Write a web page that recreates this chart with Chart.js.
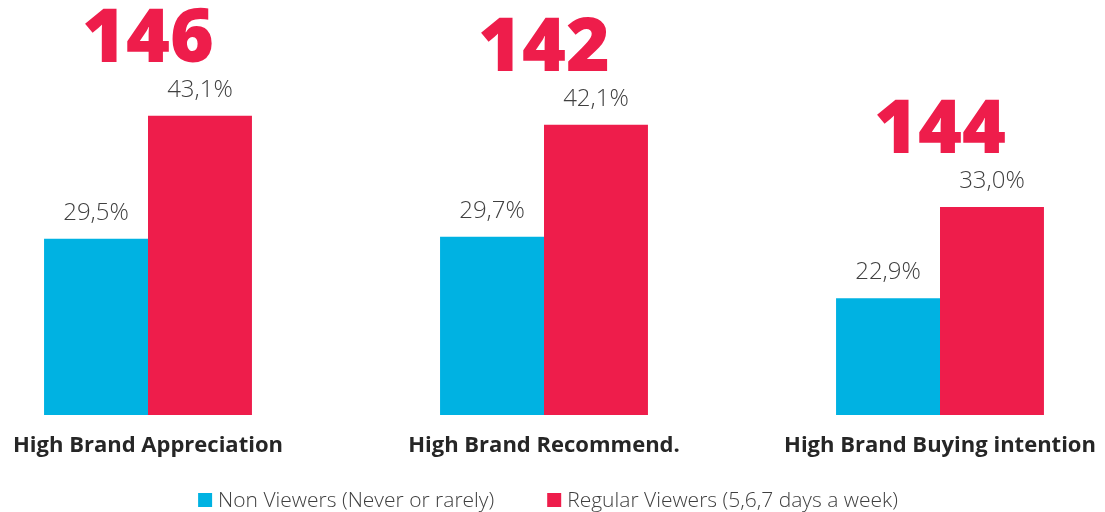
<!DOCTYPE html>
<html>
<head>
<meta charset="utf-8">
<script src="https://cdn.jsdelivr.net/npm/chart.js@4"></script>
<style>
  html, body { margin: 0; padding: 0; background: #fff; overflow: hidden; }
  #wrap { position: absolute; left: -50px; top: 0; width: 1188px; height: 512px; }
</style>
</head>
<body>
<div id="wrap"><canvas id="grafico"></canvas></div>
<script>
const categorias = ['High Brand Appreciation', 'High Brand Recommend.', 'High Brand Buying intention'];
const naoEspectadores = [29.5, 29.7, 22.9];
const regulares = [43.1, 42.1, 33.0];
const indices = [146, 142, 144];

const azul = '#00B2E2';
const vermelho = '#EE1D4B';

// escreve os percentuais em cima das barras e o índice grande sobre cada grupo
const rotulos = {
    id: 'rotulos',
    afterDatasetsDraw(chart) {
        const ctx = chart.ctx;
        ctx.save();
        ctx.textAlign = 'center';
        ctx.textBaseline = 'alphabetic';
        ctx.fillStyle = '#404040';
        ctx.font = '300 24px "Open Sans"';
        chart.data.datasets.forEach((ds, i) => {
            chart.getDatasetMeta(i).data.forEach((bar, j) => {
                const txt = ds.data[j].toFixed(1).replace('.', ',') + '%';
                ctx.fillText(txt, bar.x, bar.y - 19);
            });
        });
        const azuis = chart.getDatasetMeta(0).data;
        const vermelhas = chart.getDatasetMeta(1).data;
        ctx.fillStyle = vermelho;
        ctx.font = '800 75px "Open Sans"';
        indices.forEach((v, j) => {
            const x = (azuis[j].x + vermelhas[j].x) / 2;
            ctx.fillText(String(v), x, vermelhas[j].y - 54);
        });
        ctx.restore();
    }
};

// legenda própria: quadradinho colado no texto e bastante espaço entre os itens
const legenda = {
    id: 'legenda',
    afterDraw(chart) {
        const ctx = chart.ctx;
        const caixa = 14, folga = 6, entre = 53;
        ctx.save();
        ctx.font = '300 21px "Open Sans"';
        ctx.textAlign = 'left';
        ctx.textBaseline = 'alphabetic';
        const itens = chart.data.datasets.map(ds => ({
            texto: ds.label,
            cor: ds.backgroundColor,
            larg: ctx.measureText(ds.label).width
        }));
        const total = itens.reduce((s, it) => s + caixa + folga + it.larg, 0) + entre * (itens.length - 1);
        let x = chart.width / 2 + 4 - total / 2;
        const y = 507;
        itens.forEach(it => {
            ctx.fillStyle = it.cor;
            ctx.fillRect(x, y - caixa, caixa, caixa);
            ctx.fillStyle = '#404040';
            ctx.fillText(it.texto, x + caixa + folga, y - 0.5);
            x += caixa + folga + it.larg + entre;
        });
        ctx.restore();
    }
};

const ctx = document.getElementById('grafico').getContext('2d');
const grafico = new Chart(ctx, {
    type: 'bar',
    data: {
        labels: categorias,
        datasets: [{
            label: 'Non Viewers (Never or rarely)',
            data: naoEspectadores,
            backgroundColor: azul
        }, {
            label: 'Regular Viewers (5,6,7 days a week)',
            data: regulares,
            backgroundColor: vermelho
        }]
    },
    options: {
        responsive: true,
        maintainAspectRatio: false,
        animation: false,
        categoryPercentage: 0.525,
        barPercentage: 1,
        layout: { padding: { top: 8, left: 0, right: 0, bottom: 34.6 } },
        scales: {
            x: {
                grid: { display: false, drawTicks: false },
                border: { display: false },
                ticks: {
                    padding: 18,
                    color: '#262626',
                    font: { family: 'Open Sans', size: 22, weight: 'bold' }
                }
            },
            y: {
                display: false,
                min: 10,
                max: 55
            }
        },
        plugins: {
            legend: { display: false },
            tooltip: { enabled: false }
        }
    },
    plugins: [rotulos, legenda]
});
</script>
</body>
</html>
